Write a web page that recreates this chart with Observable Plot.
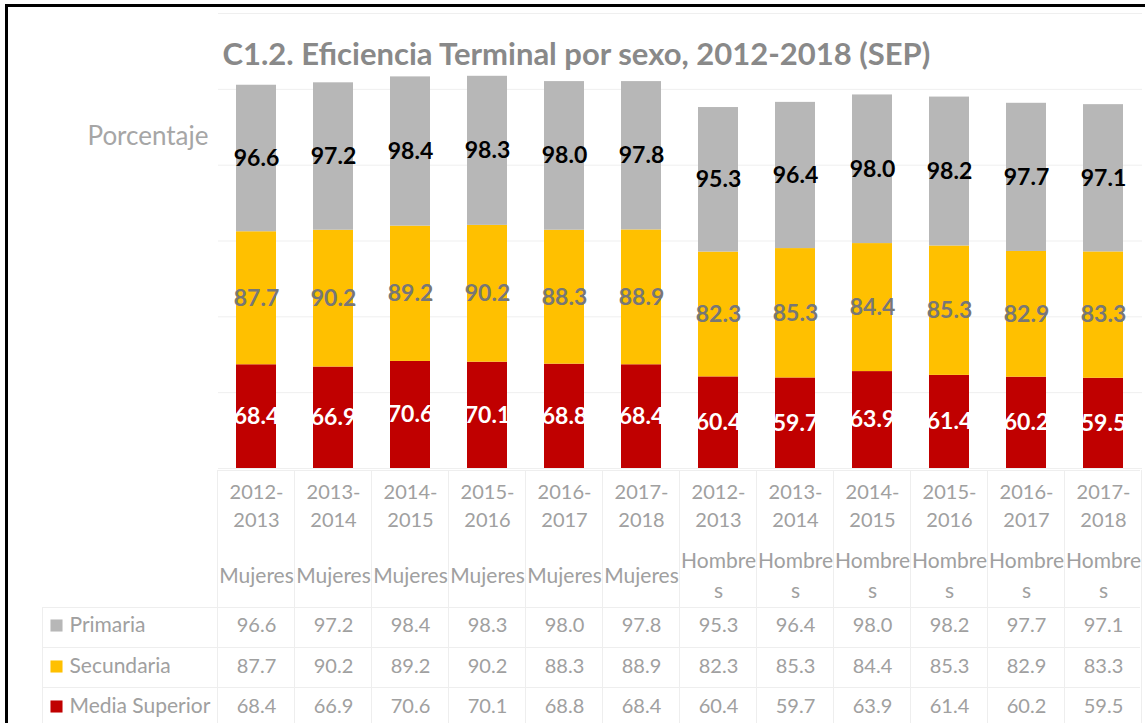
<!DOCTYPE html>
<html>
<head>
<meta charset="utf-8">
<script src="https://cdn.jsdelivr.net/npm/d3@7"></script>
<script src="https://cdn.jsdelivr.net/npm/@observablehq/plot@0.6"></script>
<style>
  html, body { margin: 0; padding: 0; background: #fff; }
  #wrap { position: relative; width: 1145px; height: 723px; overflow: hidden; }
  #border { position: absolute; left: 5px; top: 4px; right: -10px; bottom: -10px;
            border-top: 3px solid #000; border-left: 3px solid #000; pointer-events: none; }
</style>
</head>
<body>
<div id="wrap"><div id="border"></div></div>
<script>
// ---- data ----
const titulo = "C1.2. Eficiencia Terminal por sexo, 2012-2018 (SEP)";
const ejeY = "Porcentaje";
const periodos = ["2012-2013", "2013-2014", "2014-2015", "2015-2016", "2016-2017", "2017-2018"];
const sexos = ["Mujeres", "Hombres"];
const sexoEtiquetas = ["Mujeres", "Hombre\ns"];
const periodoEtiquetas = ["2012-\n2013", "2013-\n2014", "2014-\n2015", "2015-\n2016", "2016-\n2017", "2017-\n2018"];
const niveles = ["Primaria", "Secundaria", "Media Superior"];
const colores = ["#b7b7b7", "#ffc000", "#c00000"];
const primaria      = [96.6, 97.2, 98.4, 98.3, 98.0, 97.8, 95.3, 96.4, 98.0, 98.2, 97.7, 97.1];
const secundaria    = [87.7, 90.2, 89.2, 90.2, 88.3, 88.9, 82.3, 85.3, 84.4, 85.3, 82.9, 83.3];
const mediaSuperior = [68.4, 66.9, 70.6, 70.1, 68.8, 68.4, 60.4, 59.7, 63.9, 61.4, 60.2, 59.5];
const yTicks = [0, 50, 100, 150, 200, 250, 300];

// ---- derived tables ----
const cols = [];
sexos.forEach((s, si) => periodos.forEach((p, pi) => cols.push({
  key: s + "|" + p, periodo: periodoEtiquetas[pi], sexo: sexoEtiquetas[si]
})));
const serie = {"Primaria": primaria, "Secundaria": secundaria, "Media Superior": mediaSuperior};
const long = [];
["Media Superior", "Secundaria", "Primaria"].forEach(n =>
  cols.forEach((c, i) => long.push({key: c.key, nivel: n, value: serie[n][i]})));

// ---- layout constants ----
const W = 1145, H = 723, mL = 218, mR = 3, mT = 13, mB = 255;
const fnt = "Lato, 'Open Sans', sans-serif";
const txtGray = "#a0a0a0";
const labelFill = {"Primaria": "#000000", "Secundaria": "#777777", "Media Superior": "#ffffff"};
const rowDy = {"Primaria": 157, "Secundaria": 198, "Media Superior": 238};

const tableGrid = () => {
  const g = d3.create("svg:g").attr("stroke", "#eeeeee").attr("stroke-width", 1).attr("fill", "none");
  const step = (W - mL - mR) / cols.length;
  const y0 = H - mB + 2;
  for (let i = 0; i <= cols.length; i++) {
    const x = Math.round(mL + i * step) - 0.5;
    g.append("line").attr("x1", x).attr("x2", x).attr("y1", y0).attr("y2", H);
  }
  g.append("line").attr("x1", mL).attr("x2", W - mR - 2).attr("y1", y0 + 0.5).attr("y2", y0 + 0.5);
  [607, 647, 687].forEach(y => g.append("line").attr("x1", 42).attr("x2", W - mR - 2).attr("y1", y + 0.5).attr("y2", y + 0.5));
  g.append("line").attr("x1", 42.5).attr("x2", 42.5).attr("y1", 607).attr("y2", H);
  return g.node();
};

const marks = [
  Plot.ruleY(yTicks, {y: d => d, stroke: "#efefef", strokeWidth: 1}),
  tableGrid,
  Plot.barY(long, {x: "key", y: "value", fill: "nivel"})
];
niveles.forEach(n => {
  marks.push(Plot.text(long, Plot.stackY({
    x: "key", y: "value", z: "nivel",
    text: d => d.nivel === n ? d.value.toFixed(1) : "",
    fill: labelFill[n], fontSize: 23, fontWeight: "bold", fontFamily: fnt
  })));
});
// category axis
marks.push(Plot.text(cols, {x: "key", text: "periodo", frameAnchor: "bottom", dy: 36,
  lineAnchor: "middle", lineHeight: 1.4, fontSize: 20, fill: txtGray, fontFamily: fnt}));
marks.push(Plot.text(cols, {x: "key", text: "sexo", frameAnchor: "bottom", dy: 105,
  lineAnchor: "middle", lineHeight: 1.4, fontSize: 21, fill: txtGray, fontFamily: fnt}));
// data table
niveles.forEach((n, k) => {
  marks.push(Plot.text(cols, {x: "key", text: (d, i) => serie[n][i].toFixed(1), frameAnchor: "bottom",
    dy: rowDy[n], lineAnchor: "middle", fontSize: 20, fill: txtGray, fontFamily: fnt}));
  marks.push(Plot.text([n], {text: d => d, frameAnchor: "bottom-left", dx: 69 - mL, dy: rowDy[n],
    textAnchor: "start", lineAnchor: "middle", fontSize: 21, fill: txtGray, fontFamily: fnt}));
  marks.push(Plot.dot([n], {frameAnchor: "bottom-left", dx: 56 - mL, dy: rowDy[n], symbol: "square",
    r: 6.8, fill: colores[k], stroke: "none"}));
});
// title and y label
marks.push(Plot.text([titulo], {text: d => d, frameAnchor: "top-left", dx: 4, dy: 42, textAnchor: "start",
  lineAnchor: "middle", fontSize: 31, fontWeight: "bold", fill: "#898989", fontFamily: fnt}));
marks.push(Plot.text([ejeY], {text: d => d, frameAnchor: "top-left", dx: -10, dy: 123, textAnchor: "end",
  lineAnchor: "middle", fontSize: 26, fill: "#a6a6a6", fontFamily: fnt}));

const chart = Plot.plot({
  width: W, height: H, marginLeft: mL, marginRight: mR, marginTop: mT, marginBottom: mB,
  style: {fontFamily: fnt, background: "#ffffff", overflow: "visible"},
  x: {type: "band", domain: cols.map(c => c.key), paddingInner: 0.48, paddingOuter: 0.24, axis: null},
  y: {domain: [0, 300], axis: null},
  color: {domain: niveles, range: colores},
  marks
});
document.getElementById("wrap").insertBefore(chart, document.getElementById("border"));
</script>
</body>
</html>
